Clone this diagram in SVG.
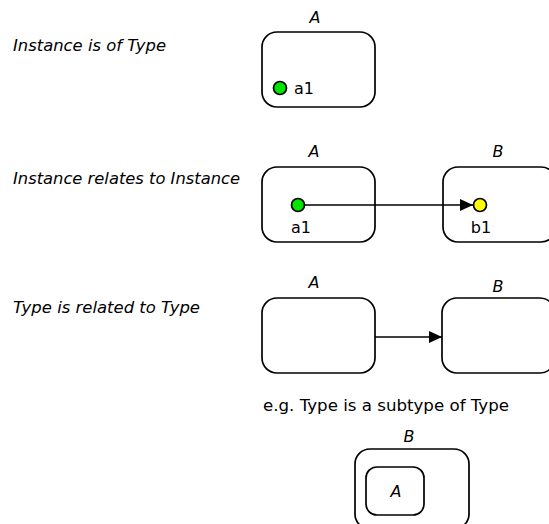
<svg xmlns="http://www.w3.org/2000/svg" width="549" height="524" viewBox="0 0 549 524">
<defs>
<style>
.lbl{font-family:"DejaVu Sans",Verdana,sans-serif;font-size:16.5px;font-style:italic;fill:#000}
.tl{font-family:"DejaVu Sans",Verdana,sans-serif;font-size:16px;font-style:italic;fill:#000}
.txt{font-family:"DejaVu Sans",Verdana,sans-serif;font-size:16px;fill:#000}
.box{fill:#fff;stroke:#000;stroke-width:1.7}
.conn{stroke:#000;stroke-width:1.7;fill:none}
.dot{stroke:#000;stroke-width:1.7}
</style>
<marker id="arr" markerWidth="13" markerHeight="12" refX="13" refY="6" orient="auto" markerUnits="userSpaceOnUse">
<path d="M0,0 L13,6 L0,12 Z" fill="#000"/>
</marker>
</defs>
<rect width="549" height="524" fill="#fff"/>
<text class="lbl" x="13" y="51" textLength="153" lengthAdjust="spacingAndGlyphs">Instance is of Type</text>
<text class="lbl" x="13" y="184" textLength="227" lengthAdjust="spacingAndGlyphs">Instance relates to Instance</text>
<text class="lbl" x="13" y="313" textLength="187" lengthAdjust="spacingAndGlyphs">Type is related to Type</text>
<text class="txt" x="263" y="411" textLength="246" lengthAdjust="spacingAndGlyphs">e.g. Type is a subtype of Type</text>

<g id="typeA1">
<rect class="box" x="262" y="32" width="113" height="75" rx="15"/>
<text class="tl" x="315" y="23" text-anchor="middle">A</text>
</g>
<g id="a1_1">
<circle class="dot" cx="280" cy="88" r="6.5" fill="#00e600"/>
<text class="txt" x="294" y="94">a1</text>
</g>

<g id="typeA2">
<rect class="box" x="262" y="167" width="113" height="75" rx="15"/>
<text class="tl" x="314" y="157" text-anchor="middle">A</text>
</g>
<g id="typeB2">
<rect class="box" x="443" y="167" width="113" height="75" rx="15"/>
<text class="tl" x="498" y="157" text-anchor="middle">B</text>
</g>

<g id="typeA3">
<rect class="box" x="262" y="298" width="113" height="75" rx="15"/>
<text class="tl" x="314" y="288" text-anchor="middle">A</text>
</g>
<g id="typeB3">
<rect class="box" x="442" y="298" width="113" height="75" rx="15"/>
<text class="tl" x="498" y="292" text-anchor="middle">B</text>
</g>

<g id="typeB4">
<rect class="box" x="355" y="449" width="114" height="80" rx="15"/>
<text class="tl" x="409" y="442" text-anchor="middle">B</text>
</g>
<g id="typeA4">
<rect class="box" x="366" y="467" width="58" height="48" rx="11"/>
<text class="tl" x="396" y="497" text-anchor="middle">A</text>
</g>

<g id="connectors">
<line class="conn" x1="298" y1="205" x2="473" y2="205" marker-end="url(#arr)"/>
<line class="conn" x1="375" y1="337" x2="442" y2="337" marker-end="url(#arr)"/>
</g>

<g id="a1_2">
<circle class="dot" cx="298" cy="205" r="6.5" fill="#00e600"/>
<text class="txt" x="301" y="233" text-anchor="middle">a1</text>
</g>
<g id="b1">
<circle class="dot" cx="480" cy="205" r="6.5" fill="#ffff00"/>
<text class="txt" x="481" y="233" text-anchor="middle">b1</text>
</g>
</svg>
